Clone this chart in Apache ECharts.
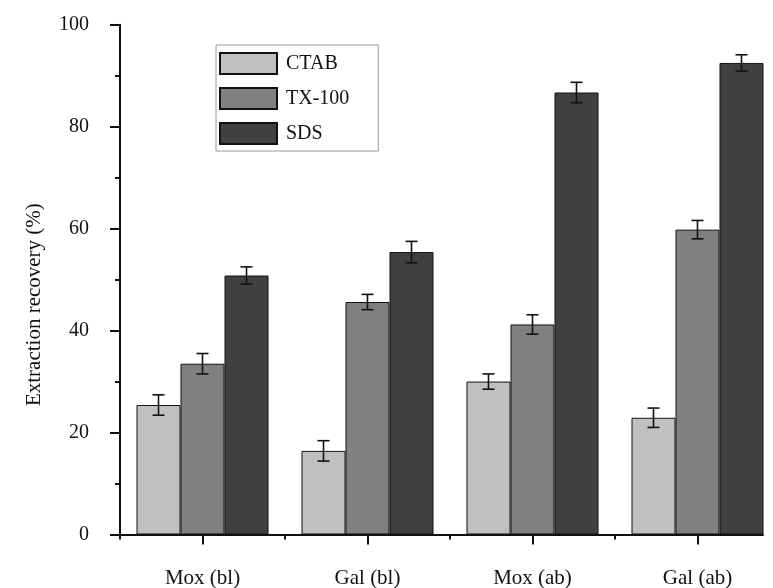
<!DOCTYPE html>
<html>
<head>
<meta charset="utf-8">
<script src="https://cdn.jsdelivr.net/npm/echarts@6/dist/echarts.min.js"></script>
<style>
  html, body { margin: 0; padding: 0; background: #fff; }
  #chart { width: 773px; height: 588px; }
</style>
</head>
<body>
<div id="chart"></div>
<script>
// Sample groups on the horizontal axis
const categories = ['Mox (bl)', 'Gal (bl)', 'Mox (ab)', 'Gal (ab)'];
// Surfactants
const surfactants = ['CTAB', 'TX-100', 'SDS'];
// Mean extraction recovery (%) per surfactant, one value per sample group
const ctabValues = [25.4, 16.4, 30.0, 22.9];
const tx100Values = [33.5, 45.6, 41.2, 59.8];
const sdsValues = [50.8, 55.4, 86.7, 92.5];
// Standard deviations (%)
const ctabErrors = [2.0, 2.0, 1.5, 1.9];
const tx100Errors = [2.0, 1.5, 1.9, 1.8];
const sdsErrors = [1.7, 2.1, 2.0, 1.6];
// Y axis ticks
const yTicks = [0, 20, 40, 60, 80, 100];

const values = [ctabValues, tx100Values, sdsValues];
const errors = [ctabErrors, tx100Errors, sdsErrors];
const fills = ['#c0c0c0', '#808080', '#404040'];
const font = 'Liberation Serif, Times New Roman, serif';
const CAT_GAP = 0.2;

function errorRenderer(k) {
  return function (params, api) {
    const x = api.value(0);
    const v = api.value(1);
    const e = api.value(2);
    const band = api.size([1, 0])[0];
    const barW = band * (1 - CAT_GAP) / surfactants.length;
    const off = (k - (surfactants.length - 1) / 2) * barW;
    const hi = api.coord([x, v + e]);
    const lo = api.coord([x, v - e]);
    const cx = hi[0] + off;
    const cap = 6;
    const style = { stroke: '#111', lineWidth: 1.6 };
    return {
      type: 'group',
      children: [
        { type: 'line', shape: { x1: cx, y1: hi[1], x2: cx, y2: lo[1] }, style: style },
        { type: 'line', shape: { x1: cx - cap, y1: hi[1], x2: cx + cap, y2: hi[1] }, style: style },
        { type: 'line', shape: { x1: cx - cap, y1: lo[1], x2: cx + cap, y2: lo[1] }, style: style }
      ]
    };
  };
}

const series = [];
surfactants.forEach(function (name, k) {
  series.push({
    name: name,
    type: 'bar',
    xAxisIndex: 0,
    yAxisIndex: 0,
    data: values[k],
    barGap: '0%',
    barCategoryGap: (CAT_GAP * 100) + '%',
    itemStyle: { color: fills[k], borderColor: '#111', borderWidth: 1 },
    emphasis: { disabled: true },
    z: 2
  });
});
surfactants.forEach(function (name, k) {
  series.push({
    name: name + ' error',
    type: 'custom',
    xAxisIndex: 0,
    yAxisIndex: 0,
    renderItem: errorRenderer(k),
    data: values[k].map(function (v, i) { return [i, v, errors[k][i]]; }),
    z: 5,
    silent: true
  });
});

const chart = echarts.init(document.getElementById('chart'), null, { renderer: 'canvas' });
chart.setOption({
  backgroundColor: '#fff',
  animation: false,
  textStyle: { fontFamily: font, color: '#111' },
  grid: [
    { left: 120, width: 660, top: 24.7, bottom: 53.5, containLabel: false, outerBoundsMode: 'none' },
    // frame for the visible horizontal axis line
    { left: 120, right: 10, top: 24.7, bottom: 53.5, containLabel: false, outerBoundsMode: 'none' }
  ],
  legend: {
    data: surfactants,
    orient: 'vertical',
    left: 216,
    top: 45,
    icon: 'rect',
    itemWidth: 57,
    itemHeight: 21,
    itemGap: 12,
    padding: [7, 29, 6, 3],
    borderColor: '#9a9a9a',
    borderWidth: 1,
    selectedMode: false,
    textStyle: { fontFamily: font, fontSize: 20, color: '#111', padding: [0, 0, 0, 4] }
  },
  xAxis: [
    {
      type: 'category',
      gridIndex: 0,
      position: 'bottom',
      data: categories,
      axisLine: { show: false },
      axisTick: { show: true, alignWithLabel: true, length: 10, lineStyle: { color: '#111', width: 2 } },
      axisLabel: { fontFamily: font, fontSize: 21, color: '#111', margin: 33 },
      splitLine: { show: false }
    },
    {
      type: 'category',
      gridIndex: 0,
      position: 'bottom',
      data: categories,
      axisLine: { show: false },
      axisTick: { show: true, alignWithLabel: false, length: 5, lineStyle: { color: '#111', width: 2 } },
      axisLabel: { show: false },
      splitLine: { show: false }
    },
    {
      type: 'value',
      gridIndex: 1,
      min: 0,
      max: 1,
      position: 'bottom',
      axisLine: { show: true, onZero: false, lineStyle: { color: '#111', width: 2 } },
      axisTick: { show: false },
      axisLabel: { show: false },
      splitLine: { show: false }
    }
  ],
  yAxis: [
    {
      type: 'value',
      gridIndex: 0,
      min: yTicks[0],
      max: yTicks[yTicks.length - 1],
      interval: yTicks[1] - yTicks[0],
      name: 'Extraction recovery (%)',
      nameLocation: 'middle',
      nameGap: 75,
      nameTextStyle: { fontFamily: font, fontSize: 21, color: '#111', padding: [0, 50, 0, 0] },
      axisLine: { show: true, lineStyle: { color: '#111', width: 2 } },
      axisTick: { show: true, length: 10, lineStyle: { color: '#111', width: 2 } },
      minorTick: { show: true, splitNumber: 2, length: 5, lineStyle: { color: '#111', width: 2 } },
      axisLabel: { fontFamily: font, fontSize: 20, color: '#111', margin: 31 },
      splitLine: { show: false }
    },
    {
      type: 'value',
      gridIndex: 1,
      show: false
    }
  ],
  series: series
});
</script>
</body>
</html>
